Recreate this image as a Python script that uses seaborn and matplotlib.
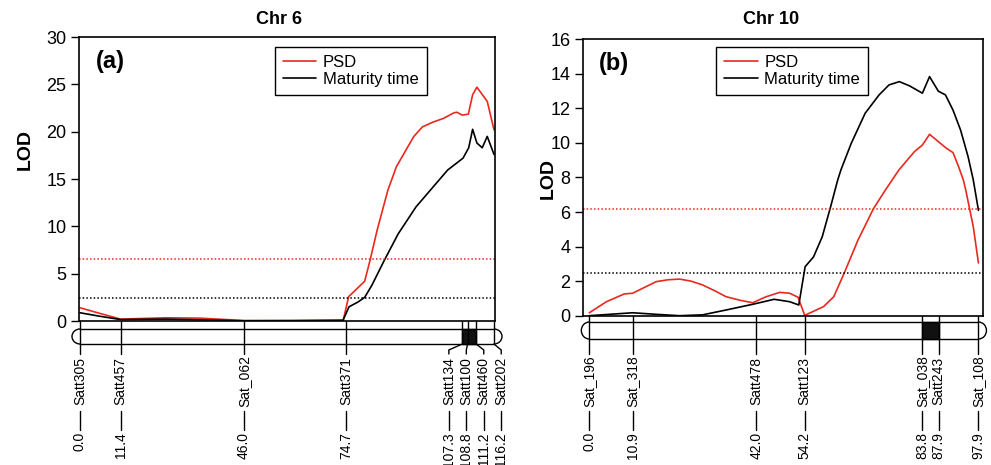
import numpy as np
import pandas as pd
import matplotlib
matplotlib.use("Agg")
import matplotlib.pyplot as plt
import seaborn as sns
from matplotlib.patches import Arc, Rectangle

# Chr 6 markers (cM)
chr6_markers = ["Satt305", "Satt457", "Sat_062", "Satt371", "Satt134", "Satt100", "Satt460", "Satt202"]
chr6_pos = [0.0, 11.4, 46.0, 74.7, 107.3, 108.8, 111.2, 116.2]

# Chr 6 LOD profiles
chr6_psd_cm = [0, 5.6, 11.4, 24.2, 33.8, 46.0, 59.8, 73.9, 75.4, 79.9, 81.4, 83.4, 86.4, 88.8,
               91.4, 93.7, 96.1, 99.0, 102.0, 105.0, 105.8, 107.3, 109.0, 110.2, 111.4, 114.3, 116.2]
chr6_psd = [1.4, 0.8, 0.2, 0.34, 0.3, 0.05, 0.05, 0.12, 2.57, 4.2, 6.4, 9.6, 13.8, 16.3,
            18.0, 19.5, 20.5, 21.0, 21.4, 22.0, 22.05, 21.75, 21.85, 23.9, 24.7, 23.2, 20.2]
chr6_mat_cm = [0, 5.6, 11.4, 24.2, 46.0, 73.8, 75.5, 78.0, 79.9, 81.9, 85.4, 89.3, 94.3,
               99.2, 103.2, 107.5, 109.1, 110.2, 111.4, 112.9, 114.3, 116.2]
chr6_mat = [0.87, 0.5, 0.15, 0.2, 0.02, 0.05, 1.5, 2.0, 2.5, 3.76, 6.4, 9.2, 12.05,
            14.2, 15.95, 17.2, 18.3, 20.25, 18.8, 18.3, 19.5, 17.6]
chr6_thr = [6.5, 2.4]  # PSD, maturity time

# Chr 10 markers (cM)
chr10_markers = ["Sat_196", "Sat_318", "Satt478", "Satt123", "Sat_038", "Satt243", "Sat_108"]
chr10_pos = [0.0, 10.9, 42.0, 54.2, 83.8, 87.9, 97.9]

# Chr 10 LOD profiles
chr10_psd_cm = [0.0, 4.3, 8.8, 10.9, 16.8, 19.8, 22.7, 25.6, 28.5, 31.5, 34.4, 37.8, 41.1, 44.5,
                47.9, 50.4, 52.5, 54.2, 58.9, 61.5, 64.1, 67.6, 71.5, 74.5, 77.9, 81.8, 83.8,
                85.6, 87.8, 89.8, 91.5, 92.9, 94.1, 94.7, 96.6, 97.9]
chr10_psd = [0.17, 0.81, 1.26, 1.3, 1.97, 2.08, 2.12, 2.0, 1.78, 1.45, 1.1, 0.9, 0.75, 1.1,
             1.35, 1.3, 1.07, 0.02, 0.52, 1.1, 2.45, 4.38, 6.2, 7.28, 8.44, 9.5, 9.88,
             10.5, 10.08, 9.7, 9.44, 8.63, 7.86, 7.28, 5.15, 3.05]
chr10_mat_cm = [0.0, 10.9, 16.8, 22.7, 28.5, 34.4, 41.1, 46.5, 50.4, 52.7, 54.3, 56.4, 58.6,
                60.7, 62.5, 63.3, 65.9, 69.4, 72.9, 75.4, 78.0, 80.6, 83.8, 85.6, 87.8, 89.6,
                91.5, 93.4, 95.3, 96.6, 97.9]
chr10_mat = [0.0, 0.17, 0.08, 0.0, 0.05, 0.33, 0.66, 0.95, 0.81, 0.62, 2.84, 3.4, 4.57,
             6.3, 7.86, 8.44, 9.98, 11.72, 12.78, 13.36, 13.55, 13.3, 12.88, 13.84, 13.0, 12.78,
             11.9, 10.75, 9.2, 7.86, 6.1]
chr10_thr = [6.2, 2.45]

RED = "#e8291f"
W, H = 991, 465


def spread(pos, gap):
    # push marker labels apart so they don't overlap
    lab = np.array(pos, float)
    for _ in range(500):
        moved = False
        for i in range(len(lab) - 1):
            d = lab[i + 1] - lab[i]
            if d < gap - 1e-6:
                s = (gap - d) / 2
                lab[i] -= s
                lab[i + 1] += s
                moved = True
        if not moved:
            break
    return lab


def draw_panel(fig, box, xlim, ylim, yticks, psd, mat, thr, markers, pos, qtl, tag, title, title_x,
               lod_xy, leg_anchor, bar_px, label_gap):
    left, top, right, bottom = box
    ax = fig.add_axes([left / W, 1 - bottom / H, (right - left) / W, (bottom - top) / H])

    df_psd = pd.DataFrame({"cM": psd[0], "LOD": psd[1]})
    df_mat = pd.DataFrame({"cM": mat[0], "LOD": mat[1]})
    sns.lineplot(data=df_psd, x="cM", y="LOD", color=RED, lw=1.2, estimator=None, ax=ax, label="PSD")
    sns.lineplot(data=df_mat, x="cM", y="LOD", color="black", lw=1.2, estimator=None, ax=ax,
                 label="Maturity time")
    ax.axhline(thr[0], color=RED, lw=1.1, ls=(0, (1, 1.4)))
    ax.axhline(thr[1], color="black", lw=1.1, ls=(0, (1, 1.4)))

    ax.set_xlim(*xlim)
    ax.set_ylim(*ylim)
    ax.set_yticks(yticks)
    ax.set_xticks([])
    ax.set_xlabel("")
    ax.set_ylabel("")
    ax.tick_params(axis="y", direction="out", length=6, width=1, labelsize=13, pad=3,
                   color="black", labelcolor="black")
    for s in ax.spines.values():
        s.set_visible(True)
        s.set_linewidth(1.2)
        s.set_color("black")

    leg = ax.legend(loc="upper right", bbox_to_anchor=leg_anchor, fontsize=12, frameon=True,
                    fancybox=False, edgecolor="black", framealpha=1, borderpad=0.5,
                    handlelength=2.0, handletextpad=0.4, labelspacing=0.1, borderaxespad=0)
    leg.get_frame().set_linewidth(1)

    ax.text(0.04, 0.955, tag, transform=ax.transAxes, ha="left", va="top",
            fontsize=17, fontweight="bold")
    fig.text(title_x / W, 1 - 20 / H, title, ha="center", va="center", fontsize=13, fontweight="bold")
    fig.text(lod_xy[0] / W, 1 - lod_xy[1] / H, "LOD", ha="center", va="center", rotation=90,
             fontsize=14, fontweight="bold")

    # chromosome bar below the plot, y in pixel rows
    axb = fig.add_axes([left / W, 0, (right - left) / W, 1 - bottom / H])
    axb.set_xlim(*xlim)
    axb.set_ylim(H, bottom)
    axb.axis("off")
    b_top, b_bot = bar_px
    bc = (b_top + b_bot) / 2
    bh = b_bot - b_top
    px_per = (right - left) / (xlim[1] - xlim[0])
    rx = 8 / px_per
    start, end = pos[0], pos[-1]
    axb.plot([start, end], [b_top, b_top], color="black", lw=1, clip_on=False)
    axb.plot([start, end], [b_bot, b_bot], color="black", lw=1, clip_on=False)
    axb.add_patch(Arc((start, bc), 2 * rx, bh, theta1=90, theta2=270, color="black", lw=1,
                      clip_on=False))
    axb.add_patch(Arc((end, bc), 2 * rx, bh, theta1=-90, theta2=90, color="black", lw=1,
                      clip_on=False))
    axb.add_patch(Rectangle((qtl[0], b_top), qtl[1] - qtl[0], bh, facecolor="#111111",
                            edgecolor="black", lw=1, clip_on=False))

    lab = spread(pos, label_gap)
    for name, p, lx in zip(markers, pos, lab):
        axb.plot([p, p], [bottom, b_bot], color="black", lw=1, clip_on=False)
        axb.plot([p, lx, lx], [b_bot, 350, 354], color="black", lw=1, clip_on=False)
        axb.text(lx, 381, name, rotation=90, ha="center", va="center", fontsize=10)
        axb.plot([lx, lx], [411, 430], color="black", lw=1, clip_on=False)
        axb.text(lx, 432, f"{p:.1f}", rotation=90, ha="center", va="top", fontsize=10)
    return ax


def main():
    sns.set_style("ticks")
    plt.rcParams["font.family"] = ["Liberation Sans", "DejaVu Sans"]
    plt.rcParams["text.color"] = "black"
    plt.rcParams["axes.edgecolor"] = "black"
    fig = plt.figure(figsize=(W / 100, H / 100), dpi=100)

    draw_panel(fig, (79, 37, 495, 321), (-0.28, 116.48), (0, 30), range(0, 31, 5),
               (chr6_psd_cm, chr6_psd), (chr6_mat_cm, chr6_mat), chr6_thr,
               chr6_markers, chr6_pos, (107.3, 111.2), "(a)", "Chr 6", 279,
               (25, 150), (0.837, 0.965), (329, 344), 4.9)
    draw_panel(fig, (583, 39.3, 982.7, 315.7), (-1.59, 98.97), (0, 16), range(0, 17, 2),
               (chr10_psd_cm, chr10_psd), (chr10_mat_cm, chr10_mat), chr10_thr,
               chr10_markers, chr10_pos, (83.8, 87.9), "(b)", "Chr 10", 771,
               (548, 178), (0.714, 0.973), (322, 339), 3.8)

    fig.savefig("out.png", dpi=100)


if __name__ == "__main__":
    main()
